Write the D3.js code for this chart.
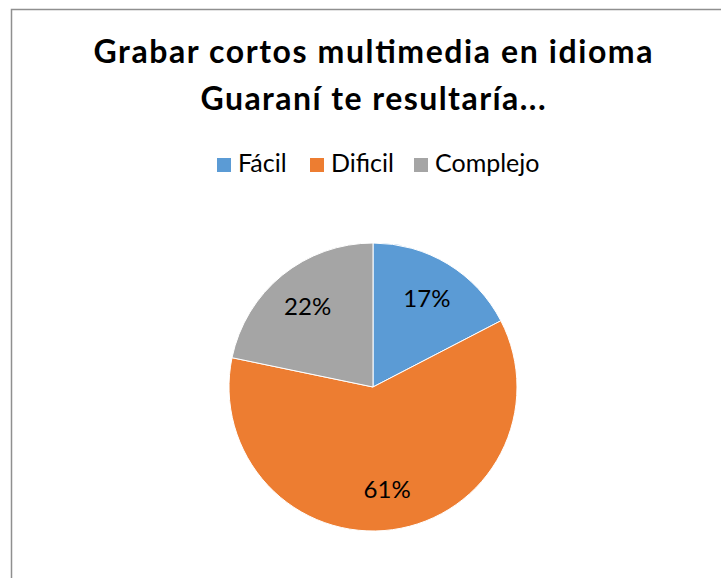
<!DOCTYPE html>
<html>
<head>
<meta charset="utf-8">
<script src="https://cdn.jsdelivr.net/npm/d3@7"></script>
<style>
  html, body { margin: 0; padding: 0; background: #fff; }
  svg { display: block; font-family: Lato, "Open Sans", sans-serif; }
</style>
</head>
<body>
<svg id="chart" width="721" height="578"></svg>
<script>
// --- Data ---
const titleLines = ["Grabar cortos multimedia en idioma", "Guaraní te resultaría..."];
const titleWidths = [559, 345];
const categories = ["Fácil", "Dificil", "Complejo"];
const values = [4, 14, 5];
const colors = ["#5b9bd5", "#ed7d31", "#a5a5a5"];

const svg = d3.select("#chart");

// chart area border (cropped on right / bottom)
svg.append("rect")
  .attr("x", 11.5).attr("y", 9.5)
  .attr("width", 720).attr("height", 600)
  .attr("fill", "#fff")
  .attr("stroke", "#8f8f8f")
  .attr("stroke-width", 1.5);

// --- Title ---
svg.append("g").selectAll("text")
  .data(titleLines)
  .join("text")
  .attr("x", 373)
  .attr("y", (d, i) => 63 + i * 47)
  .attr("text-anchor", "middle")
  .attr("textLength", (d, i) => titleWidths[i])
  .attr("lengthAdjust", "spacing")
  .style("font-size", "32px")
  .style("font-weight", "bold")
  .style("fill", "#000")
  .text(d => d);

// --- Legend ---
const legendX = [217, 310, 414];
const legend = svg.append("g").selectAll("g")
  .data(categories)
  .join("g")
  .attr("transform", (d, i) => `translate(${legendX[i]},158)`);

legend.append("rect")
  .attr("width", 14).attr("height", 14)
  .attr("fill", (d, i) => colors[i]);

legend.append("text")
  .attr("x", 21)
  .attr("y", 14)
  .style("font-size", "25px")
  .style("fill", "#000")
  .text(d => d);

// --- Pie ---
const cx = 373, cy = 387, r = 144;
const total = d3.sum(values);
const pie = d3.pie().sort(null).value(d => d);
const arc = d3.arc().innerRadius(0).outerRadius(r);
const labelArc = d3.arc().innerRadius(r * 0.72).outerRadius(r * 0.72);

const g = svg.append("g").attr("transform", `translate(${cx},${cy})`);
const arcs = pie(values);

g.selectAll("path")
  .data(arcs)
  .join("path")
  .attr("d", arc)
  .attr("fill", (d, i) => colors[i])
  .attr("stroke", "#fff")
  .attr("stroke-width", 1);

g.selectAll("text")
  .data(arcs)
  .join("text")
  .attr("transform", d => `translate(${labelArc.centroid(d)})`)
  .attr("text-anchor", "middle")
  .attr("dy", "0.35em")
  .style("font-size", "24px")
  .style("fill", "#000")
  .text(d => Math.round(d.data / total * 100) + "%");
</script>
</body>
</html>
